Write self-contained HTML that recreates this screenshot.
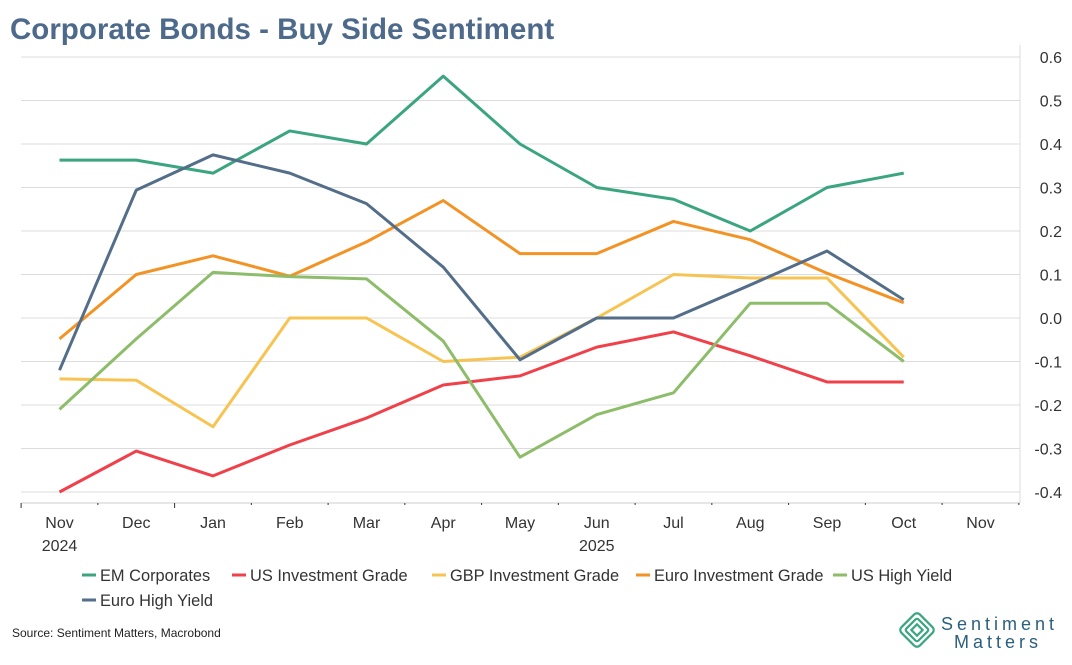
<!DOCTYPE html>
<html><head><meta charset="utf-8"><style>
body{margin:0;background:#fff;font-family:"Liberation Sans",sans-serif;}
svg text{font-family:"Liberation Sans",sans-serif;}
</style></head><body>
<svg id="c" width="1072" height="660">
<text x="10" y="39" font-size="29.5" font-weight="bold" fill="#4e6a8b">Corporate Bonds - Buy Side Sentiment</text>
<g id="grid"></g><g id="series"></g><g id="axes"></g><g id="legend"></g>
<text x="12" y="637" font-size="12" fill="#222">Source: Sentiment Matters, Macrobond</text>
<g>
<g transform="translate(917,630) rotate(45)" fill="none" stroke="#3aa57f" stroke-width="2.2">
<rect x="-13" y="-13" width="26" height="26" rx="4"/><rect x="-8.5" y="-8.5" width="17" height="17" rx="2"/><rect x="-4" y="-4" width="8" height="8"/></g>
<text x="941" y="630" font-size="18" fill="#2b5f7e" letter-spacing="4">Sentiment</text>
<text x="954" y="648" font-size="18" fill="#2b5f7e" letter-spacing="4">Matters</text>
</g>
</svg>
<script>
const months=["Nov","Dec","Jan","Feb","Mar","Apr","May","Jun","Jul","Aug","Sep","Oct","Nov"];
const yTicks=[0.6,0.5,0.4,0.3,0.2,0.1,0.0,-0.1,-0.2,-0.3,-0.4];
const emCorp=[0.363,0.363,0.333,0.43,0.40,0.556,0.40,0.30,0.273,0.20,0.30,0.333];
const usIG=[-0.40,-0.306,-0.363,-0.292,-0.23,-0.154,-0.133,-0.067,-0.032,-0.087,-0.147,-0.147];
const gbpIG=[-0.14,-0.143,-0.25,0,0,-0.10,-0.09,0,0.10,0.092,0.092,-0.09];
const euroIG=[-0.048,0.10,0.143,0.096,0.175,0.27,0.148,0.148,0.222,0.18,0.103,0.035];
const usHY=[-0.21,-0.048,0.105,0.095,0.09,-0.053,-0.32,-0.222,-0.172,0.034,0.034,-0.10];
const euroHY=[-0.12,0.294,0.375,0.333,0.263,0.117,-0.096,0,0,0.076,0.154,0.042];
const names=["EM Corporates","US Investment Grade","GBP Investment Grade","Euro Investment Grade","US High Yield","Euro High Yield"];
const colors=["#3aa57f","#f0414a","#f7c453","#f39325","#8dbd6a","#546e8a"];
const data=[emCorp,usIG,gbpIG,euroIG,usHY,euroHY];
const NS="http://www.w3.org/2000/svg";
function x(i){return 59.5+i*76.75;}
function y(v){return 318-v*435;}
function mk(t,a,p){const e=document.createElementNS(NS,t);for(const k in a)e.setAttribute(k,a[k]);document.getElementById(p).appendChild(e);return e;}
yTicks.forEach(v=>{
 const l=mk("line",{x1:21,x2:1020,y1:y(v),y2:y(v),stroke:"#dcdcdc","stroke-width":1},"grid");
 
 
 const t=mk("text",{x:1062,y:y(v)+6,"font-size":16,fill:"#333","text-anchor":"end"},"axes");
 t.textContent=v.toFixed(1);
 
 
});
const vl=mk("line",{x1:1020,x2:1020,y1:45,y2:503,stroke:"#dcdcdc"},"axes");


const ax=mk("line",{x1:21,x2:1020,y1:503,y2:503,stroke:"#ccc"},"axes");


for(let i=0;i<=13;i++){
 const tx=x(i)-38.4;
 const tk=mk("line",{x1:tx,x2:tx,y1:503,y2:i==2||i==0?508:505,stroke:"#333"},"axes");
 
 
}
months.forEach((m,i)=>{
 const t=mk("text",{x:x(i),y:528,"font-size":16,fill:"#333","text-anchor":"middle"},"axes");
 t.textContent=m;
 
 
});
[[0,"2024"],[7,"2025"]].forEach(([i,s])=>{
 const t=mk("text",{x:x(i),y:551,"font-size":16,fill:"#333","text-anchor":"middle"},"axes");
 t.textContent=s;
 
 
});
data.forEach((d,k)=>{
 const p=mk("polyline",{points:d.map((v,i)=>x(i)+","+y(v)).join(" "),fill:"none",stroke:colors[k],"stroke-width":3,"stroke-linejoin":"round"},"series");
 
 
});
const lx=[82,232,432,636,833,82],ly=[575,575,575,575,575,600];
names.forEach((n,k)=>{
 const g=mk("g",{},"legend");
 
 
 const l=document.createElementNS(NS,"line");
 l.setAttribute("x1",lx[k]);l.setAttribute("x2",lx[k]+14);l.setAttribute("y1",ly[k]);l.setAttribute("y2",ly[k]);
 l.setAttribute("stroke",colors[k]);l.setAttribute("stroke-width",3);g.appendChild(l);
 const t=document.createElementNS(NS,"text");
 t.setAttribute("x",lx[k]+18);t.setAttribute("y",ly[k]+6);t.setAttribute("font-size",16.4);t.setAttribute("fill","#333");
 t.textContent=n;g.appendChild(t);
});
</script>
</body></html>
